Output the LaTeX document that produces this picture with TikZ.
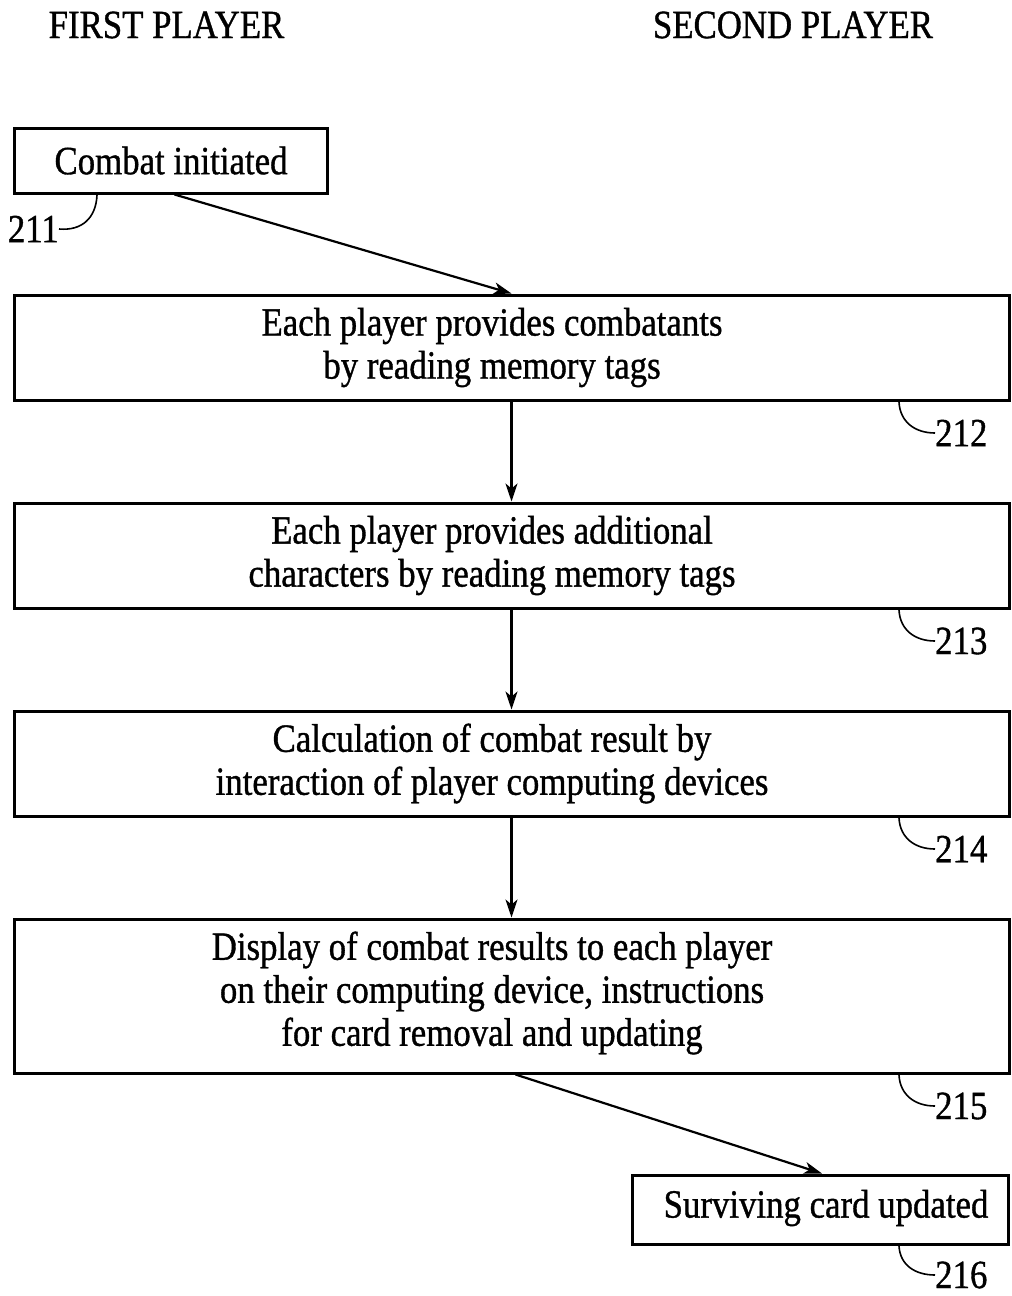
\documentclass[tikz,border=0pt]{standalone}
\usepackage{fontspec}
\setmainfont{Liberation Serif}[FakeStretch=0.87,FakeBold=0.9]
\usetikzlibrary{arrows.meta,calc}
\begin{document}
\begin{tikzpicture}[x=1pt,y=-1pt,
  every node/.style={font=\fontsize{40}{43}\selectfont},
  box/.style={draw, line width=3pt, inner sep=0pt},
  wide/.style={box, minimum width=995},
  steptext/.style={align=center, inner sep=0pt},
  flow/.style={line width=2.2pt, -{Stealth[length=18pt,width=12pt,inset=5pt]}},
  leader/.style={line width=1.6pt},
  ref/.style={anchor=west, inner sep=0pt}]
\useasboundingbox (0,0) rectangle (1012,1296);

% column headings
\node (h1) at (166.5,25) {FIRST PLAYER};
\node (h2) at (793,25) {SECOND PLAYER};

% flow step frames
\node[box, minimum width=313, minimum height=65] (b211) at (170.5,160.5) {};
\node[wide, minimum height=105] (b212) at (511.5,347.5) {};
\node[wide, minimum height=105] (b213) at (511.5,555.5) {};
\node[wide, minimum height=105] (b214) at (511.5,763.5) {};
\node[wide, minimum height=154] (b215) at (511.5,996) {};
\node[box, minimum width=376, minimum height=69] (b216) at (820,1209.5) {};

% step texts
\node[steptext] (t211) at (171,160.5) {Combat initiated};
\node[steptext] (t212) at (492,347.5) {Each player provides combatants\\by reading memory tags};
\node[steptext] (t213) at (492,555.5) {Each player provides additional\\characters by reading memory tags};
\node[steptext] (t214) at (492,763.5) {Calculation of combat result by\\interaction of player computing devices};
\node[steptext] (t215) at (492,993) {Display of combat results to each player\\on their computing device, instructions\\for card removal and updating};
\node[steptext] (t216) at (826,1208) {Surviving card updated};

% connectors
\draw[flow] ($(b211.south)+(4,0)$) -- (b212.north);
\draw[flow] (b212.south) -- (b213.north);
\draw[flow] (b213.south) -- (b214.north);
\draw[flow] (b214.south) -- (b215.north);
\draw[flow] ($(b215.south)+(4,0)$) -- ($(b216.north)+(2,0)$);

% reference numerals
\node[anchor=east, inner sep=0pt] (r211) at (59,229) {211};
\draw[leader] (97,195) .. controls (96,218) and (82,231) .. (r211.east);

\node[ref] (r212) at (935,433) {212};
\draw[leader] (899,402) .. controls (900,422) and (915,433) .. (r212.west);
\node[ref] (r213) at (935,641) {213};
\draw[leader] (899,610) .. controls (900,630) and (915,641) .. (r213.west);
\node[ref] (r214) at (935,849) {214};
\draw[leader] (899,818) .. controls (900,838) and (915,849) .. (r214.west);
\node[ref] (r215) at (935,1106) {215};
\draw[leader] (899,1075) .. controls (900,1095) and (915,1106) .. (r215.west);
\node[ref] (r216) at (935,1275) {216};
\draw[leader] (899,1246) .. controls (900,1265) and (915,1275) .. (r216.west);
\end{tikzpicture}
\end{document}
